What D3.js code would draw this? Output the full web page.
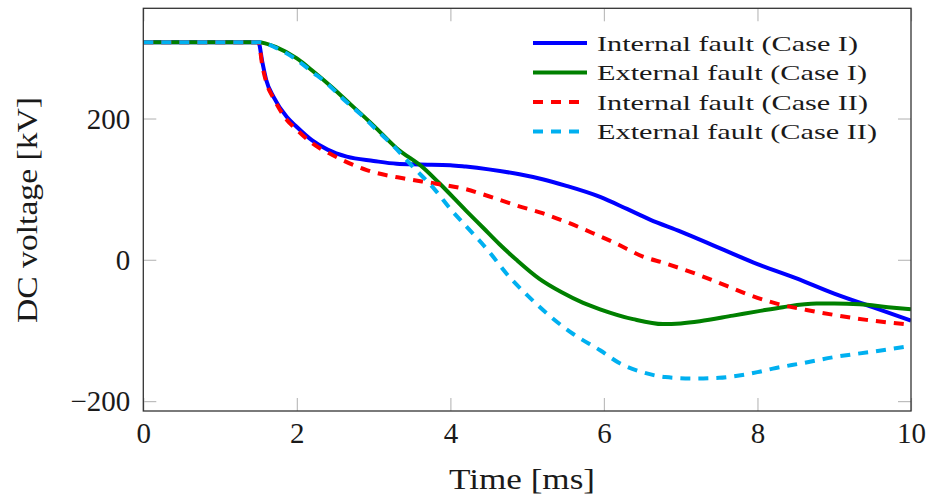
<!DOCTYPE html>
<html>
<head>
<meta charset="utf-8">
<script src="https://cdn.jsdelivr.net/npm/d3@7"></script>
<style>
  body { margin: 0; background: #fff; }
  svg text { font-family: "Liberation Serif", "Times New Roman", serif; fill: #1a1a1a; }
</style>
</head>
<body>
<svg id="chart" width="929" height="503"></svg>
<script>
// values (time in ms, voltage in kV)
const intCase1T = [0, 1.5, 1.55, 1.6, 1.7, 1.87, 2.0, 2.2, 2.4, 2.65, 3.0, 3.3, 3.6, 4.0, 4.2, 4.5, 4.9, 5.2, 5.5, 5.95, 6.3, 6.6, 7.0, 7.5, 8.0, 8.5, 9.0, 9.5, 10];
const intCase1V = [308, 308, 280, 255, 230, 202, 188, 169, 156, 146, 140, 136, 135, 134, 132, 128, 121, 114, 105, 89, 72, 57, 40, 17, -6, -26, -48, -67, -86];

const extCase1T = [0, 1.5, 1.6, 1.73, 2.0, 2.2, 2.45, 2.7, 3.0, 3.3, 3.65, 3.86, 4.2, 4.43, 4.64, 4.86, 5.16, 5.45, 5.73, 5.95, 6.38, 6.77, 7.0, 7.25, 7.68, 8.0, 8.33, 8.77, 9.0, 9.33, 9.7, 10];
const extCase1V = [308, 308, 306, 301, 285, 268, 245, 220, 190, 158, 130, 108, 70, 45, 22, 0, -27, -46, -61, -70, -84, -91, -90, -87, -79, -73, -67, -62, -62, -63, -67, -70];

const intCase2T = [0, 1.5, 1.55, 1.6, 1.7, 1.87, 2.0, 2.2, 2.47, 2.91, 3.4, 3.8, 4.2, 4.5, 4.86, 5.2, 5.5, 5.85, 6.16, 6.5, 6.8, 7.25, 7.6, 7.9, 8.25, 8.64, 9.0, 9.42, 10];
const intCase2V = [308, 308, 275, 252, 228, 198, 184, 165, 148, 127, 115, 108, 100, 90, 77, 66, 54, 38, 23, 5, -5, -22, -37, -50, -62, -71, -78, -85, -92];

const extCase2T = [0, 1.5, 1.6, 1.73, 2.0, 2.2, 2.39, 2.6, 2.82, 3.0, 3.25, 3.5, 3.8, 4.0, 4.21, 4.5, 4.75, 5.0, 5.3, 5.6, 5.95, 6.2, 6.5, 6.8, 7.16, 7.5, 7.68, 8.0, 8.2, 8.6, 8.98, 9.5, 10];
const extCase2V = [308, 308, 306, 300, 283, 266, 250, 228, 207, 188, 162, 133, 99, 72, 47, 12, -22, -50, -80, -105, -128, -146, -159, -166, -168, -167, -165, -159, -154, -146, -138, -130, -122];

const seriesNames = ["Internal fault (Case I)", "External fault (Case I)", "Internal fault (Case II)", "External fault (Case II)"];
const xTicks = [0, 2, 4, 6, 8, 10];
const yTicks = [-200, 0, 200];

const series = [
  { name: seriesNames[0], t: intCase1T, v: intCase1V, color: "#0000ff", dash: null, textLen: 261 },
  { name: seriesNames[1], t: extCase1T, v: extCase1V, color: "#008000", dash: null, textLen: 270 },
  { name: seriesNames[2], t: intCase2T, v: intCase2V, color: "#ff0000", dash: "10,8", textLen: 271 },
  { name: seriesNames[3], t: extCase2T, v: extCase2V, color: "#00b0f0", dash: "10,8", textLen: 280 }
];

const svg = d3.select("#chart");
const plotL = 143.3, plotR = 911, plotT = 8.3, plotB = 411;

const x = d3.scaleLinear().domain([0, 10]).range([plotL, plotR]);
const y = d3.scaleLinear().domain([-214, 356]).range([plotB, plotT]);

// axes, ticks point inward and are light grey
function styleAxis(g) {
  g.select(".domain").remove();
  g.selectAll(".tick line").attr("stroke", "#bdbdbd").attr("stroke-width", 1.2);
}

svg.append("g")
  .attr("transform", `translate(0,${plotB})`)
  .call(d3.axisBottom(x).tickValues(xTicks).tickSize(-13).tickFormat(d3.format("d")))
  .call(styleAxis)
  .call(g => g.selectAll(".tick text")
    .attr("y", 32).attr("dy", null)
    .style("font-size", "29px"));

svg.append("g")
  .attr("transform", `translate(0,${plotT})`)
  .call(d3.axisTop(x).tickValues(xTicks).tickSize(-13).tickFormat(""))
  .call(styleAxis);

svg.append("g")
  .attr("transform", `translate(${plotL},0)`)
  .call(d3.axisLeft(y).tickValues(yTicks).tickSize(-13).tickPadding(13).tickFormat(d3.format("d")))
  .call(styleAxis)
  .call(g => g.selectAll(".tick text")
    .attr("x", -13).attr("dy", "0.34em")
    .style("font-size", "29px"));

svg.append("g")
  .attr("transform", `translate(${plotR},0)`)
  .call(d3.axisRight(y).tickValues(yTicks).tickSize(-13).tickFormat(""))
  .call(styleAxis);

// curves
const line = d3.line()
  .x(d => x(d[0]))
  .y(d => y(d[1]))
  .curve(d3.curveMonotoneX);

svg.append("defs").append("clipPath").attr("id", "plotclip")
  .append("rect").attr("x", plotL).attr("y", plotT)
  .attr("width", plotR - plotL).attr("height", plotB - plotT);

const plot = svg.append("g").attr("clip-path", "url(#plotclip)");
series.forEach(s => {
  plot.append("path")
    .datum(s.t.map((t, i) => [t, s.v[i]]))
    .attr("fill", "none")
    .attr("stroke", s.color)
    .attr("stroke-width", 4)
    .attr("stroke-dasharray", s.dash)
    .attr("d", line);
});

// frame
svg.append("rect")
  .attr("x", plotL).attr("y", plotT)
  .attr("width", plotR - plotL).attr("height", plotB - plotT)
  .attr("fill", "none").attr("stroke", "#333").attr("stroke-width", 1.3);

// axis titles
svg.append("text")
  .attr("x", 522).attr("y", 489)
  .attr("text-anchor", "middle")
  .attr("textLength", 146).attr("lengthAdjust", "spacingAndGlyphs")
  .style("font-size", "29px")
  .text("Time [ms]");

svg.append("text")
  .attr("transform", "translate(37,210) rotate(-90)")
  .attr("text-anchor", "middle")
  .attr("textLength", 226).attr("lengthAdjust", "spacingAndGlyphs")
  .style("font-size", "29px")
  .text("DC voltage [kV]");

// legend
const legend = svg.append("g");
series.forEach((s, i) => {
  const ly = 43 + i * 29.5;
  legend.append("line")
    .attr("x1", 533).attr("x2", 587)
    .attr("y1", ly).attr("y2", ly)
    .attr("stroke", s.color).attr("stroke-width", 4)
    .attr("stroke-dasharray", s.dash);
  legend.append("text")
    .attr("x", 597).attr("y", ly + 7.5)
    .attr("textLength", s.textLen).attr("lengthAdjust", "spacingAndGlyphs")
    .style("font-size", "22px")
    .text(s.name);
});
</script>
</body>
</html>
